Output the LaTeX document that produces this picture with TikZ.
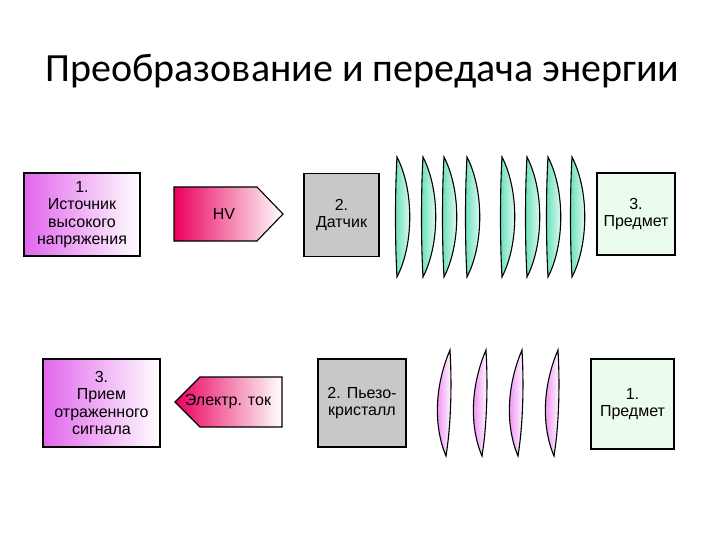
\documentclass[tikz,border=0pt]{standalone}
\usepackage{fontspec}
\setmainfont{Liberation Sans}
\newfontfamily\titlefont{Carlito}
\definecolor{srcpink}{RGB}{226,102,236}
\definecolor{crimson}{RGB}{234,0,92}
\definecolor{sensgray}{RGB}{200,200,200}
\definecolor{objgreen}{RGB}{236,252,236}
\definecolor{mint}{RGB}{104,224,188}
\definecolor{echopink}{RGB}{236,118,240}

\begin{document}
\begin{tikzpicture}[x=1pt,y=-1pt]
\tikzstyle{box}=[rectangle,draw=black,line width=1.1pt,inner sep=0pt,align=center,font=\fontsize{16}{17.5}\selectfont]
\tikzstyle{src}=[box,left color=srcpink,right color=white]
\tikzstyle{sens}=[box,fill=sensgray]
\tikzstyle{obj}=[box,fill=objgreen]
\tikzstyle{pulse}=[draw=black,line width=1.1pt,left color=crimson,right color=white]
\tikzstyle{pulsetext}=[inner sep=0pt,font=\fontsize{16}{17.5}\selectfont]
\tikzstyle{wave}=[draw=black,line width=1.1pt,left color=mint,right color=white]
\tikzstyle{echo}=[draw=black,line width=1.1pt,left color=echopink,right color=white]
\useasboundingbox (0,0) rectangle (720,540);

\node[anchor=base west,font=\titlefont\fontsize{40}{46}\selectfont] (title) at (42,82) {Преобразование и передача энергии};

% top row
\node[src,minimum width=116pt,minimum height=83pt] (source) at (82,214.5) {1.\\Источник\\высокого\\напряжения};
\draw[pulse] (174,187) -- (257,187) -- (283,214) -- (257,241) -- (174,241) -- cycle;
\node[pulsetext] (hv) at (224,214) {HV};
\node[sens,minimum width=75pt,minimum height=83pt] (sensor) at (341.5,215) {2.\\Датчик};
\node[obj,minimum width=78pt,minimum height=82pt] (target) at (636,214) {3.\\Предмет};
\foreach \x in {397,423,444,467,502,527,548,572}
  \draw[wave] (\x,157) .. controls (\x+17,190) and (\x+17,244) .. (\x,277) .. controls (\x-2,244) and (\x-2,190) .. cycle;

% bottom row
\node[src,minimum width=117pt,minimum height=88pt] (receiver) at (101.5,403) {3.\\Прием\\отраженного\\сигнала};
\draw[pulse] (282,377) -- (200,377) -- (175,402) -- (200,427) -- (282,427) -- cycle;
\node[pulsetext] (current) at (228,402) {Электр. ток};
\node[sens,minimum width=88pt,minimum height=88pt] (piezo) at (362,403) {2. Пьезо-\\кристалл};
\node[obj,minimum width=83pt,minimum height=90pt] (object) at (632.5,404) {1.\\Предмет};
\foreach \x in {450,486,522,558}
  \draw[echo] (\x,350) .. controls (\x+2,385) and (\x+1,425) .. (\x-4,456) .. controls (\x-17,425) and (\x-15,385) .. cycle;
\end{tikzpicture}
\end{document}
